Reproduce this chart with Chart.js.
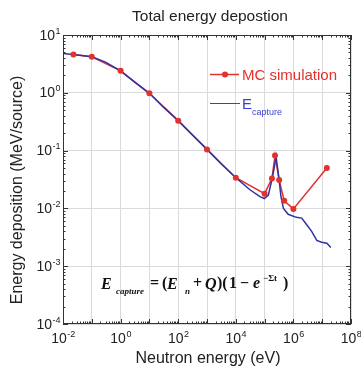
<!DOCTYPE html>
<html>
<head>
<meta charset="utf-8">
<script src="https://cdn.jsdelivr.net/npm/chart.js@4.4.1/dist/chart.umd.min.js"></script>
<style>
  html, body { margin: 0; padding: 0; background: #fff; }
</style>
</head>
<body>
<canvas id="chart" width="361" height="376"></canvas>
<script>
// MC simulation points (neutron energy in eV, deposition in MeV/source)
const mcEnergy = [0.023, 0.1, 1, 10, 100, 1000, 1e4, 1e5, 1.8e5, 2.3e5, 3.2e5, 4.8e5, 1e6, 1.45e7];
const mcDeposit = [4.6, 4.2, 2.4, 0.98, 0.33, 0.105, 0.034, 0.018, 0.033, 0.082, 0.031, 0.0135, 0.0098, 0.05];

// E_capture curve
const capEnergy = [0.01, 0.023, 0.1, 0.3, 1, 3, 10, 30, 100, 300, 1000, 3000, 1e4, 3.1e4, 6.9e4, 9.8e4,
  1.35e5, 1.78e5, 2.15e5, 2.5e5, 3.1e5, 3.7e5, 4.5e5, 6.6e5, 1.26e6, 1.95e6, 2.9e6, 4.3e6, 6.5e6, 9.5e6, 1.45e7, 2e7];
const capDeposit = [4.8, 4.6, 4.2, 3.4, 2.4, 1.55, 0.98, 0.57, 0.33, 0.19, 0.105, 0.06, 0.034, 0.021, 0.016, 0.0148,
  0.017, 0.031, 0.05, 0.079, 0.035, 0.016, 0.01, 0.0079, 0.007, 0.0068, 0.0052, 0.004, 0.0028, 0.0026, 0.0025, 0.0021];

// tick labels, as powers of ten
const xTickExp = [-2, 0, 2, 4, 6, 8];
const yTickExp = [-4, -3, -2, -1, 0, 1];

const RED = '#e3312d';
const BLUE = '#2f33a3';

const toXY = (xs, ys) => xs.map((v, i) => ({ x: v, y: ys[i] }));
const isDecade = v => Math.abs(Math.log10(v) - Math.round(Math.log10(v))) < 1e-6;

function drawPow(ctx, exp, x, baseline, align) {
  ctx.font = '14px Arial, "Liberation Sans", sans-serif';
  const wb = ctx.measureText('10').width;
  ctx.font = '9px Arial, "Liberation Sans", sans-serif';
  const es = exp < 0 ? '-' + Math.abs(exp) : String(exp);
  const we = ctx.measureText(es).width;
  const start = align === 'right' ? x - wb - we : x - (wb + we) / 2;
  ctx.textAlign = 'left';
  ctx.textBaseline = 'alphabetic';
  ctx.font = '14px Arial, "Liberation Sans", sans-serif';
  ctx.fillText('10', start, baseline);
  ctx.font = '9px Arial, "Liberation Sans", sans-serif';
  ctx.fillText(es, start + wb + 0.5, baseline - 6);
}

const decorations = {
  id: 'decorations',
  afterDraw(chart) {
    const { ctx, chartArea: a, scales: { x, y } } = chart;
    ctx.save();

    // frame
    ctx.strokeStyle = '#333';
    ctx.lineWidth = 1;
    ctx.strokeRect(a.left + 0.5, a.top + 0.5, a.right - a.left - 1, a.bottom - a.top - 1);

    // inward ticks on all four sides
    ctx.beginPath();
    for (let d = -2; d <= 8; d++) {
      for (let k = 1; k <= 9; k++) {
        const v = k * Math.pow(10, d);
        if (v > 1e8 * 1.0001) break;
        const len = k === 1 ? 5 : 2.5;
        const px = Math.round(x.getPixelForValue(v)) + 0.5;
        ctx.moveTo(px, a.bottom); ctx.lineTo(px, a.bottom - len);
        ctx.moveTo(px, a.top); ctx.lineTo(px, a.top + len);
      }
    }
    for (let d = -4; d <= 1; d++) {
      for (let k = 1; k <= 9; k++) {
        const v = k * Math.pow(10, d);
        if (v > 10 * 1.0001) break;
        const len = k === 1 ? 5 : 2.5;
        const py = Math.round(y.getPixelForValue(v)) + 0.5;
        ctx.moveTo(a.left, py); ctx.lineTo(a.left + len, py);
        ctx.moveTo(a.right, py); ctx.lineTo(a.right - len, py);
      }
    }
    ctx.stroke();

    // tick labels
    ctx.fillStyle = '#222';
    yTickExp.forEach(e => drawPow(ctx, e, 60, y.getPixelForValue(Math.pow(10, e)) + 4.5, 'right'));
    xTickExp.forEach(e => drawPow(ctx, e, x.getPixelForValue(Math.pow(10, e)), 343, 'center'));

    // titles
    ctx.textAlign = 'center';
    ctx.textBaseline = 'middle';
    ctx.font = '15.5px Arial, "Liberation Sans", sans-serif';
    ctx.fillText('Total energy depostion', 210, 17);
    ctx.font = '16px Arial, "Liberation Sans", sans-serif';
    ctx.fillText('Neutron energy (eV)', 208, 359);
    ctx.save();
    ctx.translate(18, 190);
    ctx.rotate(-Math.PI / 2);
    ctx.fillText('Energy deposition (MeV/source)', 0, 0);
    ctx.restore();

    // legend
    ctx.lineWidth = 1.5;
    ctx.strokeStyle = RED;
    ctx.beginPath(); ctx.moveTo(210, 74.5); ctx.lineTo(239, 74.5); ctx.stroke();
    ctx.fillStyle = RED;
    ctx.beginPath(); ctx.arc(225, 74.5, 3, 0, Math.PI * 2); ctx.fill();
    ctx.textAlign = 'left';
    ctx.textBaseline = 'alphabetic';
    ctx.font = '15px Arial, "Liberation Sans", sans-serif';
    ctx.fillText('MC simulation', 242, 80);
    ctx.strokeStyle = '#3a3fcf';
    ctx.lineWidth = 1;
    ctx.beginPath(); ctx.moveTo(210, 103.5); ctx.lineTo(240, 103.5); ctx.stroke();
    ctx.fillStyle = '#3a3fcf';
    ctx.font = '15px Arial, "Liberation Sans", sans-serif';
    ctx.fillText('E', 242, 109);
    ctx.font = '9px Arial, "Liberation Sans", sans-serif';
    ctx.fillText('capture', 252, 115);

    // formula
    ctx.fillStyle = '#111';
    const bi = 'bold italic 16px "Times New Roman", "Liberation Serif", serif';
    const b = 'bold 16px "Times New Roman", "Liberation Serif", serif';
    const sub = 'bold italic 9px "Times New Roman", "Liberation Serif", serif';
    const sup = 'bold 9px "Times New Roman", "Liberation Serif", serif';
    const parts = [
      ['E', bi, 101, 289], ['capture', sub, 116, 294], ['=', b, 150, 288], ['(', b, 162, 288],
      ['E', bi, 167, 289], ['n', sub, 185, 294], ['+', b, 193, 288], ['Q', bi, 205, 289],
      [')(', b, 217, 288], ['1', b, 229, 288], ['\u2212', b, 240, 288], ['e', bi, 253, 288],
      ['\u2212\u03A3t', sup, 263, 281], [')', b, 283, 288]
    ];
    parts.forEach(([t, f, px, py]) => { ctx.font = f; ctx.fillText(t, px, py); });

    ctx.restore();
  }
};

new Chart(document.getElementById('chart'), {
  type: 'scatter',
  data: {
    datasets: [
      {
        label: 'MC simulation points',
        data: toXY(mcEnergy, mcDeposit),
        showLine: false,
        pointRadius: 3,
        pointBackgroundColor: RED,
        pointBorderColor: RED,
        pointBorderWidth: 0
      },
      {
        label: 'E capture',
        data: toXY(capEnergy, capDeposit),
        showLine: true,
        borderColor: BLUE,
        borderWidth: 1.5,
        pointRadius: 0,
        tension: 0
      },
      {
        label: 'MC simulation',
        data: toXY(mcEnergy, mcDeposit),
        showLine: true,
        borderColor: RED,
        borderWidth: 1.5,
        pointRadius: 0
      }
    ]
  },
  options: {
    responsive: false,
    animation: false,
    devicePixelRatio: 1,
    layout: { padding: { left: 63, right: 10, top: 35, bottom: 52 } },
    plugins: { legend: { display: false }, tooltip: { enabled: false } },
    scales: {
      x: {
        type: 'logarithmic',
        min: 1e-2,
        max: 1e8,
        ticks: { display: false },
        border: { display: false },
        grid: {
          drawTicks: false,
          color: c => (c.tick && isDecade(c.tick.value)) ? '#dadada' : 'rgba(0,0,0,0)'
        }
      },
      y: {
        type: 'logarithmic',
        min: 1e-4,
        max: 10,
        ticks: { display: false },
        border: { display: false },
        grid: {
          drawTicks: false,
          color: c => (c.tick && isDecade(c.tick.value)) ? '#dadada' : 'rgba(0,0,0,0)'
        }
      }
    }
  },
  plugins: [decorations]
});
</script>
</body>
</html>
